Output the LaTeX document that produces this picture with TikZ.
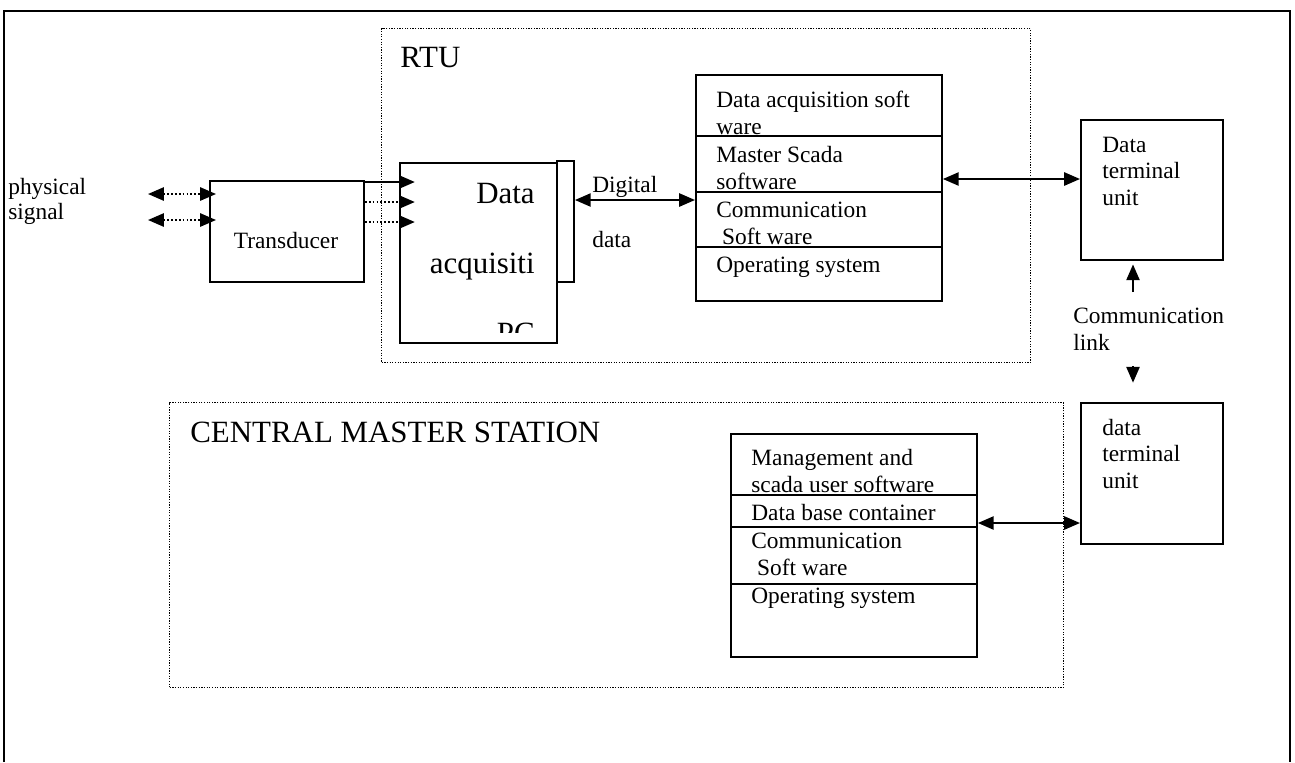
\documentclass[tikz,border=0pt]{standalone}
\usepackage{fontspec}
\setmainfont{Liberation Serif}
\usetikzlibrary{arrows.meta}
\newcommand{\petit}{\fontsize{13.3}{15}\selectfont}
\newcommand{\grand}{\fontsize{17.6}{21}\selectfont}
\tikzset{
	bloc/.style = {draw, line width=1.1pt, inner sep=0pt, anchor=north west},% boite pleine
	cadre/.style = {draw, line width=0.8pt, dash pattern=on 0.7pt off 0.8pt,
		inner sep=0pt, anchor=north west},% cadre pointille
	texte/.style = {align=left, inner sep=0pt, anchor=base west, font=\petit},% base = derniere ligne
	titre/.style = {inner sep=0pt, anchor=base west, font=\grand},
	fleche/.style = {-{Triangle[length=9pt,width=7.5pt]}, line width=1.1pt},
	dfleche/.style = {{Triangle[length=9pt,width=7.5pt]}-{Triangle[length=9pt,width=7.5pt]},
		line width=1.1pt},
	pointe/.style = {line width=1.1pt, dash pattern=on 1pt off 1.2pt}% liaison pointillee
}
\begin{document}
\begin{tikzpicture}[x=0.02cm, y=-0.02cm]
	\useasboundingbox (0,0) rectangle (1295,762);
	% cadre general, ouvert en bas
	\draw[line width=1.4pt] (4,762) -- (4,11) -- (1290,11) -- (1290,762);

	% RTU
	\node[cadre, minimum width=12.98cm, minimum height=6.68cm] (rtu) at (381,28) {};
	\node[titre] (rtulbl) at (400,67) {RTU};
	\node[bloc, minimum width=3.08cm, minimum height=2.02cm] (trans) at (209,180) {};
	\node[texte, anchor=base] (translbl) at (286,248) {Transducer};
	\node[bloc, minimum width=3.14cm, minimum height=3.6cm] (daq) at (399,162) {};
	\node[bloc, minimum width=0.34cm, minimum height=2.42cm] (port) at (556,160) {};
	\begin{scope}
		\clip (399,162) rectangle (556,332);
		\node[inner sep=0pt, align=right, anchor=base east,
			font=\fontsize{17.6}{39.7}\selectfont] (daqlbl) at (535,343)
			{Data\\acquisiti\\PC};
	\end{scope}
	\node[texte] (diglbl) at (592,192) {Digital};
	\node[texte] (datlbl) at (592,247) {data};
	\node[bloc, minimum width=4.92cm, minimum height=4.52cm] (rstk) at (695,74) {};
	\foreach \y in {136,192,247}
		\draw[line width=1.1pt] (rstk.west |- 0,\y) -- (rstk.east |- 0,\y);
	\node[texte] (rs1) at (716,134) {Data acquisition soft\\ware};
	\node[texte] (rs2) at (716,189) {Master Scada\\software};
	\node[texte] (rs3) at (716,244) {Communication\\\hspace{0.25em}Soft ware};
	\node[texte] (rs4) at (716,272) {Operating system};

	% terminaux
	\node[bloc, minimum width=2.84cm, minimum height=2.8cm] (dtu1) at (1080,119) {};
	\node[texte] (dtu1lbl) at (1102,205) {Data\\terminal\\unit};
	\node[texte] (lnk) at (1073,350) {Communication\\link};
	\node[bloc, minimum width=2.84cm, minimum height=2.82cm] (dtu2) at (1080,402) {};
	\node[texte] (dtu2lbl) at (1102,488) {data\\terminal\\unit};

	% station centrale
	\node[cadre, minimum width=17.88cm, minimum height=5.7cm] (cms) at (169,402) {};
	\node[titre] (cmslbl) at (190,442) {CENTRAL MASTER STATION};
	\node[bloc, minimum width=4.92cm, minimum height=4.46cm] (cstk) at (730,433) {};
	\foreach \y in {495,527,584}
		\draw[line width=1.1pt] (cstk.west |- 0,\y) -- (cstk.east |- 0,\y);
	\node[texte] (cs1) at (751,492) {Management and\\scada user software};
	\node[texte] (cs2) at (751,520) {Data base container};
	\node[texte] (cs3) at (751,575) {Communication\\\hspace{0.25em}Soft ware};
	\node[texte] (cs4) at (751,603) {Operating system};

	% signal physique
	\node[texte] (phys) at (8,219) {physical\\[-1.2pt]signal};
	\coordinate (ps1) at (148,194);
	\coordinate (ps2) at (148,220);
	\draw[dfleche, pointe, shorten >=-4pt] (ps1) -- (ps1 -| trans.west);
	\draw[dfleche, pointe, shorten >=-4pt] (ps2) -- (ps2 -| trans.west);

	% liaisons
	\draw[fleche, shorten >=-9pt] (trans.east |- 0,182) -- (daq.west |- 0,182);
	\draw[fleche, pointe, shorten >=-9pt] (trans.east |- 0,202) -- (daq.west |- 0,202);
	\draw[fleche, pointe, shorten >=-9pt] (trans.east |- 0,222) -- (daq.west |- 0,222);
	\draw[dfleche] (port.east |- 0,200) -- (rstk.west |- 0,200);
	\draw[dfleche] (rstk.east |- 0,179) -- (dtu1.west |- 0,179);
	\draw[dfleche] (cstk.east |- 0,523) -- (dtu2.west |- 0,523);
	\coordinate (cl1) at (1133,292);
	\coordinate (cl2) at (1133,366);
	\draw[fleche, shorten >=2pt] (cl1) -- (cl1 |- dtu1.south);
	\draw[fleche, shorten >=11pt] (cl2) -- (cl2 |- dtu2.north);
\end{tikzpicture}
\end{document}
